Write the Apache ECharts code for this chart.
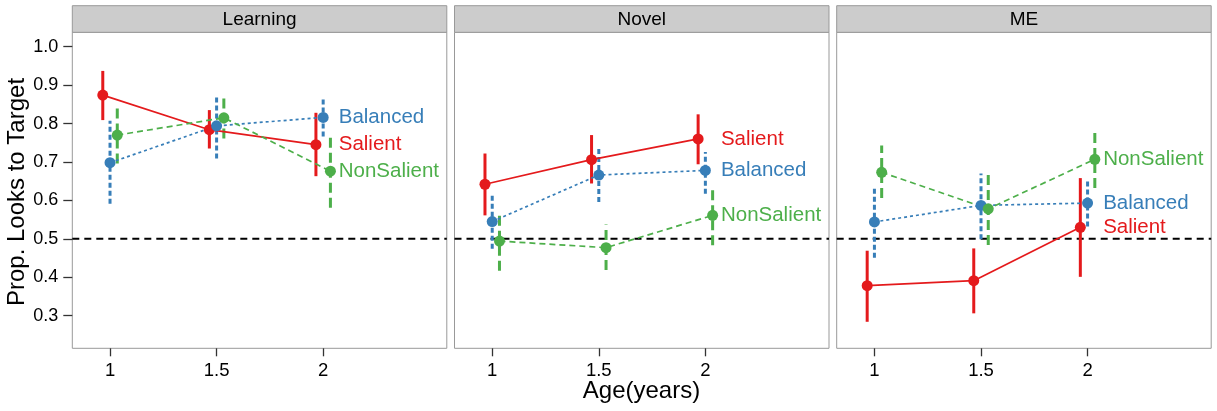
<!DOCTYPE html>
<html><head><meta charset="utf-8">
<script src="https://cdn.jsdelivr.net/npm/echarts@6/dist/echarts.min.js"></script>
<style>html,body{margin:0;padding:0;background:#fff}#c{width:1217px;height:411px}</style>
</head><body><div id="c"></div>
<script>
// ---------- data ----------
const ages = [1, 1.5, 2];
const panels = ['Learning', 'Novel', 'ME'];
const groups = ['Salient', 'Balanced', 'NonSalient'];
const xTicks = [1, 1.5, 2];
const yTicks = [0.3, 0.4, 0.5, 0.6, 0.7, 0.8, 0.9, 1.0];
const refLine = [0.5];

const learningSalientMean = [0.874, 0.784, 0.745];
const learningSalientLo   = [0.809, 0.735, 0.663];
const learningSalientHi   = [0.937, 0.835, 0.828];
const learningBalancedMean = [0.698, 0.794, 0.816];
const learningBalancedLo   = [0.591, 0.709, 0.766];
const learningBalancedHi   = [0.807, 0.872, 0.864];
const learningNonSalientMean = [0.770, 0.815, 0.676];
const learningNonSalientLo   = [0.696, 0.761, 0.581];
const learningNonSalientHi   = [0.842, 0.868, 0.770];

const novelSalientMean = [0.642, 0.706, 0.760];
const novelSalientLo   = [0.561, 0.644, 0.694];
const novelSalientHi   = [0.722, 0.770, 0.824];
const novelBalancedMean = [0.545, 0.666, 0.678];
const novelBalancedLo   = [0.474, 0.596, 0.617];
const novelBalancedHi   = [0.613, 0.735, 0.726];
const novelNonSalientMean = [0.494, 0.477, 0.561];
const novelNonSalientLo   = [0.417, 0.419, 0.483];
const novelNonSalientHi   = [0.572, 0.537, 0.639];

const meSalientMean = [0.378, 0.391, 0.530];
const meSalientLo   = [0.284, 0.306, 0.401];
const meSalientHi   = [0.469, 0.475, 0.658];
const meBalancedMean = [0.544, 0.587, 0.593];
const meBalancedLo   = [0.451, 0.499, 0.532];
const meBalancedHi   = [0.636, 0.670, 0.650];
const meNonSalientMean = [0.673, 0.578, 0.707];
const meNonSalientLo   = [0.606, 0.484, 0.632];
const meNonSalientHi   = [0.743, 0.671, 0.785];

// ---------- assembly ----------
const dataByPanel = [
  [[learningSalientMean, learningSalientLo, learningSalientHi],
   [learningBalancedMean, learningBalancedLo, learningBalancedHi],
   [learningNonSalientMean, learningNonSalientLo, learningNonSalientHi]],
  [[novelSalientMean, novelSalientLo, novelSalientHi],
   [novelBalancedMean, novelBalancedLo, novelBalancedHi],
   [novelNonSalientMean, novelNonSalientLo, novelNonSalientHi]],
  [[meSalientMean, meSalientLo, meSalientHi],
   [meBalancedMean, meBalancedLo, meBalancedHi],
   [meNonSalientMean, meNonSalientLo, meNonSalientHi]]
];

const FONT = '"Liberation Sans", Arial, sans-serif';
const colors = ['#E41A1C', '#377EB8', '#4DAF4A'];
const dodge = [-0.034, 0, 0.034];
const lineDash = ['solid', [3, 3], [6, 4]];
const barDash = [null, [5, 3], [10, 5]];
const labelX = 2.073;
const gridLefts = [72.3, 454.5, 836.7];
const gridW = 374.5, gridTop = 32.3, gridH = 316;
const xMin = 0.823, xMax = 2.58, yMin = 0.215, yMax = 1.0375;

const grids = [], xAxes = [], yAxes = [], series = [], graphics = [];

panels.forEach((pName, p) => {
  grids.push({left: gridLefts[p], top: gridTop, width: gridW, height: gridH,
    show: true, borderColor: '#999', borderWidth: 1, backgroundColor: '#fff'});
  xAxes.push({type: 'value', gridIndex: p, min: xMin, max: xMax,
    axisLine: {show: false}, splitLine: {show: false},
    axisTick: {show: true, inside: false, length: 8, customValues: xTicks, lineStyle: {color: '#333', width: 1.3}},
    axisLabel: {show: true, customValues: xTicks, margin: 13, fontSize: 18.5, color: '#000', fontFamily: FONT,
      formatter: v => String(v)}});
  yAxes.push({type: 'value', gridIndex: p, min: yMin, max: yMax,
    axisLine: {show: false}, splitLine: {show: false},
    axisTick: {show: p === 0, inside: false, length: 9, customValues: yTicks, lineStyle: {color: '#333', width: 1.3}},
    axisLabel: {show: p === 0, customValues: yTicks, margin: 14, fontSize: 18, color: '#000', fontFamily: FONT,
      formatter: v => v.toFixed(1)}});

  // reference line
  series.push({type: 'custom', xAxisIndex: p, yAxisIndex: p, z: 1, silent: true, animation: false,
    data: refLine.map(v => [v]), encode: {y: 0},
    renderItem: (params, api) => {
      const cs = params.coordSys;
      const y = api.coord([xMin, api.value(0)])[1];
      return {type: 'line', shape: {x1: cs.x, y1: y, x2: cs.x + cs.width, y2: y},
        style: {stroke: '#000', lineWidth: 2, lineDash: [7, 5]}};
    }});

  groups.forEach((g, k) => {
    const [mean, lo, hi] = dataByPanel[p][k];
    series.push({type: 'line', name: pName + ' ' + g, xAxisIndex: p, yAxisIndex: p, z: 3, animation: false,
      data: ages.map((a, i) => [a + dodge[k], mean[i]]),
      symbol: 'circle', symbolSize: 11, showSymbol: true,
      lineStyle: {color: colors[k], width: 1.7, type: lineDash[k]},
      itemStyle: {color: colors[k], borderWidth: 0}});
    series.push({type: 'custom', xAxisIndex: p, yAxisIndex: p, z: 2, animation: false,
      data: ages.map((a, i) => [a + dodge[k], lo[i], hi[i]]), encode: {x: 0, y: [1, 2]},
      renderItem: (params, api) => {
        const a = api.coord([api.value(0), api.value(1)]);
        const b = api.coord([api.value(0), api.value(2)]);
        const style = {stroke: colors[k], lineWidth: 3};
        if (barDash[k]) style.lineDash = barDash[k];
        return {type: 'line', shape: {x1: a[0], y1: a[1], x2: b[0], y2: b[1]}, style};
      }});
    series.push({type: 'custom', xAxisIndex: p, yAxisIndex: p, z: 5, animation: false,
      data: [[labelX, mean[2], g]], encode: {x: 0, y: 1},
      renderItem: (params, api) => {
        const c = api.coord([api.value(0), api.value(1)]);
        return {type: 'text', x: c[0], y: c[1],
          style: {text: g, fill: colors[k], fontSize: 20.5, fontFamily: FONT,
            align: 'left', verticalAlign: 'middle'}};
      }});
  });

  graphics.push({type: 'rect', shape: {x: gridLefts[p], y: 5.7, width: gridW, height: gridTop - 5.7},
    style: {fill: '#CCCCCC', stroke: '#999', lineWidth: 1}});
  graphics.push({type: 'text', x: gridLefts[p] + gridW / 2, y: 19.5,
    style: {text: pName, fill: '#000', fontSize: 19, fontFamily: FONT, align: 'center', verticalAlign: 'middle'}});
});

graphics.push({type: 'text', x: 641.5, y: 391,
  style: {text: 'Age(years)', fill: '#000', fontSize: 24, fontFamily: FONT, align: 'center', verticalAlign: 'middle'}});
graphics.push({type: 'text', x: 17, y: 192, rotation: Math.PI / 2,
  style: {text: 'Prop. Looks to Target', fill: '#000', fontSize: 24, fontFamily: FONT, align: 'center', verticalAlign: 'middle'}});

const chart = echarts.init(document.getElementById('c'), null, {renderer: 'canvas'});
chart.setOption({animation: false, backgroundColor: '#fff',
  grid: grids, xAxis: xAxes, yAxis: yAxes, series, graphic: graphics});
</script></body></html>
